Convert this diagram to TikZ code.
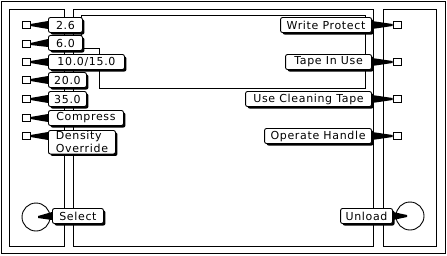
\documentclass[tikz,border=0pt]{standalone}
\usepackage{fontspec}
\setmainfont{DejaVu Sans}[LetterSpace=6]
\usetikzlibrary{shadows}

% balloon tail from a lamp (or knob) to the edge of its label
\newcommand{\pointer}[2]{%
  \fill ([yshift=1pt]#1) -- ([yshift=4pt]#2) -- ([yshift=-4pt]#2) -- ([yshift=-1pt]#1) -- cycle;}

\begin{document}
\begin{tikzpicture}[x=1pt, y=-1pt, line width=0.9pt,
    lbl/.style={draw, fill=white, rounded corners=2pt, minimum height=15pt,
        inner xsep=3pt, inner ysep=1pt, font=\fontsize{11}{13}\selectfont,
        drop shadow={shadow xshift=2pt, shadow yshift=-2pt, opacity=1, fill=black}},
    lamp/.style={draw, fill=white, minimum width=8pt, minimum height=7pt, inner sep=0pt},
    knob/.style={draw, circle, minimum size=28pt, inner sep=0pt}]
    \useasboundingbox (0,0) rectangle (447,255);

    % front panel
    \draw (1,1) rectangle (445,253);
    \draw (9,9) rectangle (64,246);
    \draw (73,9) rectangle (373,246);
    \draw (383,9) rectangle (436,246);
    \draw (81,48) -- (81,15) -- (365,15) -- (365,88) -- (99,88) -- (99,48) -- cycle;

    % density lamps
    \node[lamp] (q1) at (26,25) {};
    \node[lamp] (q2) at (26,44) {};
    \node[lamp] (q3) at (26,62) {};
    \node[lamp] (q4) at (26,80) {};
    \node[lamp] (q5) at (26,99) {};
    \node[lamp] (q6) at (26,118) {};
    \node[lamp] (q7) at (26,136) {};

    \node[lbl, anchor=west, minimum width=34pt] (l1) at (48,25) {2.6};
    \node[lbl, anchor=west, minimum width=34pt] (l2) at (48,43) {6.0};
    \node[lbl, anchor=west, minimum width=76pt] (l3) at (48,62) {10.0/15.0};
    \node[lbl, anchor=west, minimum width=38pt] (l4) at (48,80) {20.0};
    \node[lbl, anchor=west, minimum width=38pt] (l5) at (48,99) {35.0};
    \node[lbl, anchor=west, minimum width=75pt] (l6) at (48,118) {Compress};
    \node[lbl, anchor=north west, minimum width=67pt, align=left] (l7) at (48,130) {Density\\Override};
    \coordinate (t7) at (l7.west |- q7);

    \pointer{q1.east}{l1.west}
    \pointer{q2.east}{l2.west}
    \pointer{q3.east}{l3.west}
    \pointer{q4.east}{l4.west}
    \pointer{q5.east}{l5.west}
    \pointer{q6.east}{l6.west}
    \pointer{q7.east}{t7}

    % status lamps
    \node[lamp] (r1) at (397,25) {};
    \node[lamp] (r2) at (397,62) {};
    \node[lamp] (r3) at (397,99) {};
    \node[lamp] (r4) at (397,136) {};

    \node[lbl, anchor=east, minimum width=91pt] (s1) at (372,25) {Write Protect};
    \node[lbl, anchor=east, minimum width=86pt] (s2) at (372,62) {Tape In Use};
    \node[lbl, anchor=east, minimum width=126pt] (s3) at (372,99) {Use Cleaning Tape};
    \node[lbl, anchor=east, minimum width=107pt] (s4) at (372,136) {Operate Handle};

    \pointer{r1.west}{s1.east}
    \pointer{r2.west}{s2.east}
    \pointer{r3.west}{s3.east}
    \pointer{r4.west}{s4.east}

    % buttons
    \node[knob] (sel) at (36,217) {};
    \node[knob] (unl) at (410,216) {};
    \coordinate (selt) at (38,217);
    \coordinate (unlt) at (407,216);
    \node[lbl, anchor=west, minimum width=51pt] (ls) at (52,216) {Select};
    \node[lbl, anchor=east, minimum width=52pt] (lu) at (393,216) {Unload};

    \pointer{selt}{ls.west}
    \pointer{unlt}{lu.east}
\end{tikzpicture}
\end{document}
